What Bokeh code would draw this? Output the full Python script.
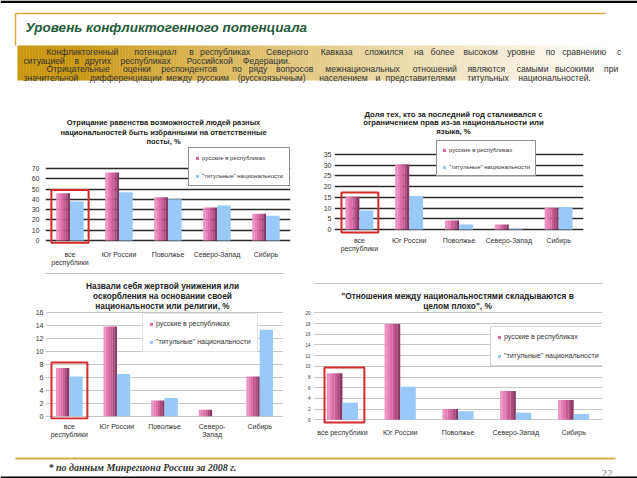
import numpy as np
from bokeh.plotting import figure
from bokeh.models import (FactorRange, Range1d, FixedTicker, Legend, LegendItem,
                          Label, BoxAnnotation, ColumnDataSource)
from bokeh.transform import dodge
from bokeh.layouts import column, row
from bokeh.embed import file_html
from bokeh.resources import INLINE
from bokeh.core.properties import value

# ---------------- data ----------------
cats_a = ["все\nреспублики", "Юг России", "Поволжье", "Северо-Запад", "Сибирь"]
cats_b = ["все\nреспублики", "Юг России", "Поволжье", "Северо-\nЗапад", "Сибирь"]
cats_c = ["все республики", "Юг России", "Поволжье", "Северо-Запад", "Сибирь"]

c1_rus = [46, 66, 42, 32, 26]
c1_tit = [38, 47, 40, 34, 24]
c1_ticks = [0, 10, 20, 30, 40, 50, 60, 70]

c2_rus = [15.3, 30.3, 4.2, 2.3, 10.2]
c2_tit = [8.9, 15.5, 2.3, 0.3, 10.5]
c2_ticks = [0, 5, 10, 15, 20, 25, 30, 35]

c3_rus = [7.4, 13.8, 2.4, 1.0, 6.1]
c3_tit = [6.1, 6.5, 2.8, 0.0, 13.3]
c3_ticks = [0, 2, 4, 6, 8, 10, 12, 14, 16]

c4_rus = [8.7, 17.9, 2.0, 5.4, 3.7]
c4_tit = [3.2, 6.2, 1.6, 1.3, 1.1]
c4_ticks = [0, 2, 4, 6, 8, 10, 12, 14, 16, 18, 20]

lbl_rus = "русские в республиках"
lbl_tit = "\"титульные\" национальности"

title1 = ["Отрицание равенства возможностей людей разных",
          "национальностей быть избранными на ответственные",
          "посты, %"]
title2 = ["Доля тех, кто за последний год сталкивался с",
          "ограничением прав из-за национальности или",
          "языка, %"]
title3 = ["Назвали себя жертвой унижения или",
          "оскорбления на основании своей",
          "национальности или религии, %"]
title4 = ["\"Отношения между национальностями складываются в",
          "целом плохо\", %"]

head_title = "Уровень конфликтогенного потенциала"
para = [
    "Конфликтогенный потенциал в республиках Северного Кавказа сложился на более высоком уровне по сравнению с",
    "ситуацией в других республиках  Российской Федерации.",
    "Отрицательные оценки респондентов по ряду вопросов межнациональных отношений являются самыми высокими при",
    "значительной дифференциации между русским (русскоязычным) населением и представителями титульных национальностей.",
]
footnote = "* по данным Минрегиона России за 2008 г."
page_no = "22"

FONT = "Liberation Sans"
PINKS = ["#ee94c4", "#e57fb4", "#da6ca6", "#c95c96", "#ae4b80", "#8c3964"]
BLUE = "#99c9f8"


def chart(W, H, L, R, T, B, cats, rus, tit, ticks, yr, bw, grid_col, grid_w,
          ylab_size, ystand, xlab_size, xstand, titles, tsx, tsy, tsize,
          leg_xy, leg_pad, leg_sp, leg_font, leg_border, red):
    p = figure(width=W, height=H, x_range=FactorRange(*cats),
               y_range=Range1d(*yr), output_backend="svg", title_location=None,
               toolbar_location=None, min_border_left=L, min_border_right=R,
               min_border_top=T, min_border_bottom=B, outline_line_color=None,
               background_fill_color="white", border_fill_color="white",
               frame_align=False)
    src = ColumnDataSource(dict(cat=cats, rus=rus, tit=tit))
    n = len(PINKS)
    pink_r = []
    for i, col in enumerate(PINKS):
        off = -bw + (i + 0.5) * bw / n
        r = p.vbar(x=dodge("cat", off, range=p.x_range), top="rus", bottom=0,
                   width=bw / n + 0.002, source=src, fill_color=col, line_color=None)
        pink_r.append(r)
    blue_r = p.vbar(x=dodge("cat", bw / 2, range=p.x_range), top="tit", bottom=0,
                    width=bw, source=src, fill_color=BLUE, line_color=None)

    p.xgrid.visible = False
    p.yaxis.ticker = FixedTicker(ticks=ticks)
    p.ygrid.grid_line_color = grid_col
    p.ygrid.grid_line_width = grid_w
    for ax, size, stand in ((p.yaxis[0], ylab_size, ystand), (p.xaxis[0], xlab_size, xstand)):
        ax.axis_line_color = None
        ax.major_tick_line_color = None
        ax.minor_tick_line_color = None
        ax.major_tick_out = 0
        ax.major_tick_in = 0
        ax.minor_tick_out = 0
        ax.minor_tick_in = 0
        ax.major_label_text_font_size = size
        ax.major_label_text_font = FONT
        ax.major_label_text_color = "#333333"
        ax.major_label_standoff = stand

    for t, y in zip(titles, tsy):
        p.add_layout(Label(x=tsx, y=y, x_units="screen", y_units="screen", text=t,
                           text_align="center", text_baseline="middle",
                           text_font=FONT, text_font_style="bold",
                           text_font_size=tsize, text_color="#222222"))

    leg = Legend(items=[LegendItem(label=lbl_rus, renderers=[pink_r[2]]),
                        LegendItem(label=lbl_tit, renderers=[blue_r])],
                 location=leg_xy, orientation="vertical", margin=0,
                 padding=leg_pad, spacing=leg_sp, glyph_width=4, glyph_height=4,
                 label_height=7, label_standoff=3, label_text_font=FONT,
                 label_text_font_size=leg_font, label_text_color="#333333",
                 border_line_color=leg_border, border_line_width=1,
                 background_fill_color="white", background_fill_alpha=1.0)
    p.add_layout(leg)

    l, r_, t, b = red
    p.add_layout(BoxAnnotation(left=l, right=r_, top=t, bottom=b, fill_alpha=0,
                               line_color="#d42a2a", line_alpha=1.0, line_width=2))
    return p


def top_line(p, top, col="#c4c4c4"):
    p.add_layout(BoxAnnotation(left=-1000, right=1000, top=top, bottom=-1000,
                               left_units="screen", right_units="screen",
                               top_units="screen", bottom_units="screen",
                               fill_alpha=0, line_color=col, line_alpha=1.0,
                               line_width=1))


# chart 1  (figure x 0..310, y 105..272; frame x 45..290, y 114..245)
p1 = chart(310, 167, 45, 20, 9, 27, cats_a, c1_rus, c1_tit, c1_ticks, (-4.86, 122.5),
           0.28, "#2a2a2a", 1.4, "7px", 6, "7px", 5,
           title1, 118, [122.7, 113.3, 104.3], "7.5px",
           (143, 59), 6, 11, "6px", "#222222", (0.12, 0.88, 49, -2.2))

# chart 2  (figure x 310..637; frame x 334..583, y 109..234)
p2 = chart(327, 167, 24, 54, 4, 38, cats_a, c2_rus, c2_tit, c2_ticks, (-2.33, 56),
           0.28, "#2a2a2a", 1.4, "7px", 3, "7px", 2,
           title2, 119, [119.7, 111.7, 103.3], "7.8px",
           (102, 58), 5, 10, "6px", "#222222", (0.14, 0.88, 17.3, -1.4))

# chart 3  (figure x 0..288, y 272..443; frame x 45..283, y 272..419)
p3 = chart(288, 171, 45, 5, 0, 24, cats_b, c3_rus, c3_tit, c3_ticks, (-0.508, 22.11),
           0.28, "#c8c8c8", 1, "7px", 2, "7px", 3,
           title3, 117, [134, 123.3, 114], "8.3px",
           (97, 67), 6, 11, "7px", "#cccccc", (0.126, 0.88, 8.26, -0.35))
top_line(p3, 146)

# chart 4  (figure x 288..637; frame x 313..602, y 280..424)
p4 = chart(349, 171, 25, 35, 8, 19, cats_c, c4_rus, c4_tit, c4_ticks, (-0.878, 26.04),
           0.27, "#c8c8c8", 1, "4.5px", 3, "7px", 4,
           title4, 144, [129, 119], "8.3px",
           (177, 58), 6, 12, "7px", "#aaaaaa", (0.19, 0.88, 9.8, -0.5))
top_line(p4, 141)

# ---------------- header (y 0..105) ----------------
hp = figure(width=637, height=105, x_range=Range1d(0, 637), y_range=Range1d(105, 0),
            x_axis_type=None, y_axis_type=None, output_backend="svg", title_location=None,
            toolbar_location=None, min_border=0, outline_line_color=None, frame_align=False)
for g in hp.grid:
    g.visible = False
hp.quad(left=0, right=637, top=0, bottom=2.5, fill_color="black", line_color=None)
gold = np.array([201, 150, 14])
white = np.array([255, 255, 255])
xs = np.arange(17, 637, 3.0)
cols = []
for x in xs:
    t = (x - 17) / 620
    m = np.clip((t - 0.10) / 0.85, 0, 1) ** 0.85
    c = gold * (1 - m) + white * m
    cols.append("#%02x%02x%02x" % tuple(int(v) for v in c))
hp.quad(left=xs, right=xs + 3.3, top=45, bottom=80, fill_color=cols, line_color=None)
hp.segment(x0=[15, 15], y0=[13, 13], x1=[605, 15], y1=[13, 45], line_color="#d6ab45",
           line_width=1.5)
hp.text(x=[25], y=[27], text=[head_title], text_font=value(FONT),
        text_font_style="bold italic", text_font_size="13.5px", text_color="#245a3a",
        text_baseline="middle")

line_specs = [(46, 622, 51.7, True), (23, None, 60, False),
              (46, 620, 68.3, True), (23, None, 77.7, False)]
wx, wy, wt = [], [], []
for txt, (x0, x1, y, just) in zip(para, line_specs):
    pitch = (x1 - x0) / len(txt) if just else 5.1
    idx = 0
    for w in txt.split(" "):
        if w:
            wx.append(x0 + idx * pitch)
            wy.append(y)
            wt.append(w)
        idx += len(w) + 1
hp.text(x=wx, y=wy, text=wt, text_font=value(FONT), text_font_size="8.6px",
        text_color="#333333", text_baseline="middle")

# ---------------- footer (y 443..478) ----------------
fp = figure(width=637, height=35, x_range=Range1d(0, 637), y_range=Range1d(35, 0),
            x_axis_type=None, y_axis_type=None, output_backend="svg", title_location=None,
            toolbar_location=None, min_border=0, outline_line_color=None, frame_align=False)
for g in fp.grid:
    g.visible = False
fp.segment(x0=[15], y0=[15], x1=[615], y1=[15], line_color="#d8ad48", line_width=2)
fp.quad(left=0, right=637, top=33, bottom=35, fill_color="black", line_color=None)
fp.text(x=[48], y=[24], text=[footnote], text_font=value("Liberation Serif"),
        text_font_style="bold italic", text_font_size="10px", text_color="#333333",
        text_baseline="middle")
fp.text(x=[612], y=[30], text=[page_no], text_font=value("Liberation Serif"),
        text_font_size="11px", text_color="#888888", text_align="right",
        text_baseline="middle")

layout = column(hp, row(p1, p2), row(p3, p4), fp)
open("out.html", "w").write(file_html(layout, INLINE))
